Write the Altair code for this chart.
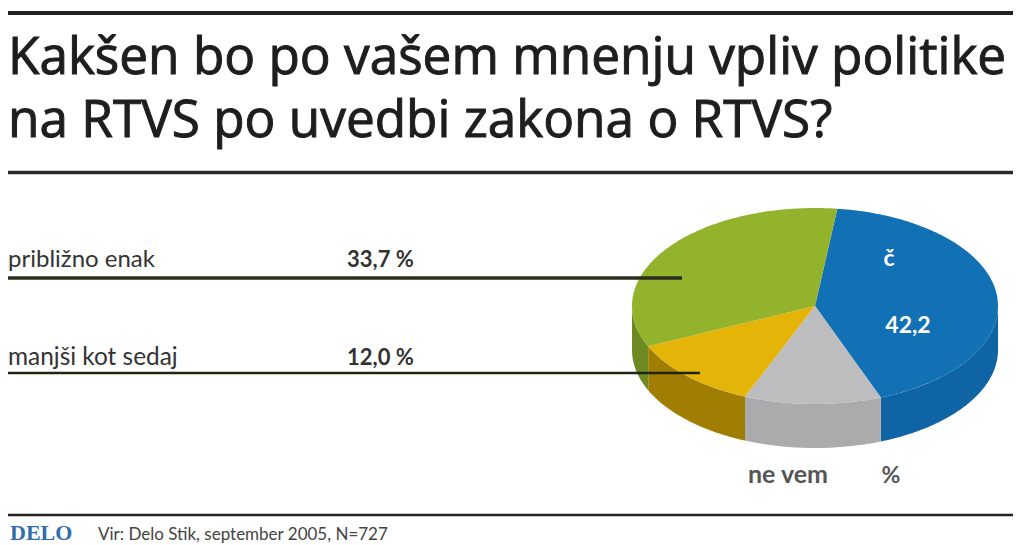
import math
import altair as alt
import pandas as pd

# --- chart values ---
categories = ["večji kot sedaj", "ne vem", "manjši kot sedaj", "približno enak"]
shares = [42.2, 12.1, 12.0, 33.7]
top_colors = ["#1270B4", "#BDBDBF", "#E5B408", "#93B32C"]
side_colors = ["#0F64A6", "#ABABAD", "#A07E04", "#6E8A22"]
title_lines = ["Kakšen bo po vašem mnenju vpliv politike", "na RTVS po uvedbi zakona o RTVS?"]

# --- layout ---
W, H = 1008, 537
CX, CY, RX, RY, DEPTH = 815, 306, 183, 98, 44
START = 7.0
xs = alt.Scale(domain=[8, 8 + W], range=[0, W])
ys = alt.Scale(domain=[8 + H, 8], range=[H, 0])


def ell(deg, dy=0):
    a = math.radians(deg)
    return CX + RX * math.sin(a), CY - RY * math.cos(a) + dy


top_rows, side_rows = [], []
start = START
for name, share, tc, sc in zip(categories, shares, top_colors, side_colors):
    end = start + share * 3.6
    steps = max(2, int(end - start))
    pts = [(CX, CY)] + [ell(start + (end - start) * i / steps) for i in range(steps + 1)]
    for i, (x, y) in enumerate(pts):
        top_rows.append(dict(s=name, o=i, x=x, y=y, c=tc))
    lo, hi = max(start, 90), min(end, 270)
    if hi > lo:
        n = max(2, int(hi - lo))
        arc = [lo + (hi - lo) * i / n for i in range(n + 1)]
        side = [ell(a) for a in arc] + [ell(a, DEPTH) for a in reversed(arc)]
        for i, (x, y) in enumerate(side):
            side_rows.append(dict(s=name, o=i, x=x, y=y, c=sc))
    start = end


def poly(rows):
    return alt.Chart(pd.DataFrame(rows)).mark_line(
        filled=True, interpolate="linear-closed", strokeWidth=0.6
    ).encode(
        x=alt.X("x:Q", scale=xs, axis=None),
        y=alt.Y("y:Q", scale=ys, axis=None),
        detail="s:N",
        order="o:Q",
        color=alt.Color("c:N", scale=None),
    )


rules = pd.DataFrame([
    dict(x=5, x2=1013, y=13, w=4, c="#222222"),
    dict(x=3, x2=1013, y=172.5, w=3.5, c="#2a2a2a"),
    dict(x=3, x2=682, y=278, w=3.5, c="#2d2d20"),
    dict(x=3, x2=700, y=373, w=2.5, c="#222215"),
    dict(x=3, x2=1013, y=515, w=2.5, c="#222222"),
])
rule_layer = alt.Chart(rules).mark_rule().encode(
    x=alt.X("x:Q", scale=xs, axis=None),
    x2="x2:Q",
    y=alt.Y("y:Q", scale=ys, axis=None),
    strokeWidth=alt.StrokeWidth("w:Q", scale=None),
    color=alt.Color("c:N", scale=None),
)


def label(txt, x, y, size, font, color="#222222", weight="normal", align="left", stroke=0.0):
    d = pd.DataFrame([dict(t=txt, x=x, y=y)])
    opts = dict(font=font, fontSize=size, color=color, fontWeight=weight, align=align, baseline="alphabetic")
    if stroke:
        opts.update(stroke=color, strokeWidth=stroke)
    return alt.Chart(d).mark_text(**opts).encode(
        x=alt.X("x:Q", scale=xs, axis=None),
        y=alt.Y("y:Q", scale=ys, axis=None),
        text="t:N",
    )


BODY = "Lato"
texts = [
    label(title_lines[0], 8, 74, 51.3, "Open Sans", "#1e1e1e", "normal", stroke=1.0),
    label(title_lines[1], 8, 137, 51.3, "Open Sans", "#1e1e1e", "normal", stroke=1.0),
    label(categories[3], 8, 267, 24, BODY, "#333333"),
    label("33,7 %", 347, 267, 22, BODY, "#333333", "bold"),
    label(categories[2], 8, 365, 24.4, BODY, "#333333"),
    label("12,0 %", 347, 365, 22, BODY, "#333333", "bold"),
    label("č", 889, 266, 23, BODY, "#ffffff", "bold", "center"),
    label("42,2", 908, 333, 23, BODY, "#ffffff", "bold", "center"),
    label("ne vem", 788, 483, 25, BODY, "#555555", "bold", "center"),
    label("%", 891, 483, 23, BODY, "#555555", "bold", "center"),
    label("DELO", 10, 540, 22, "Liberation Serif", "#2f6ea8", "bold"),
    label("Vir: Delo Stik, september 2005, N=727", 98, 540, 17, BODY, "#444444"),
]

chart = alt.layer(poly(side_rows), poly(top_rows), rule_layer, *texts).properties(
    width=W, height=H, padding=0, background="white",
    autosize=alt.AutoSizeParams(type="none"),
).configure_view(stroke=None)

chart.save("out.html", embed_options={"renderer": "svg", "actions": False})
